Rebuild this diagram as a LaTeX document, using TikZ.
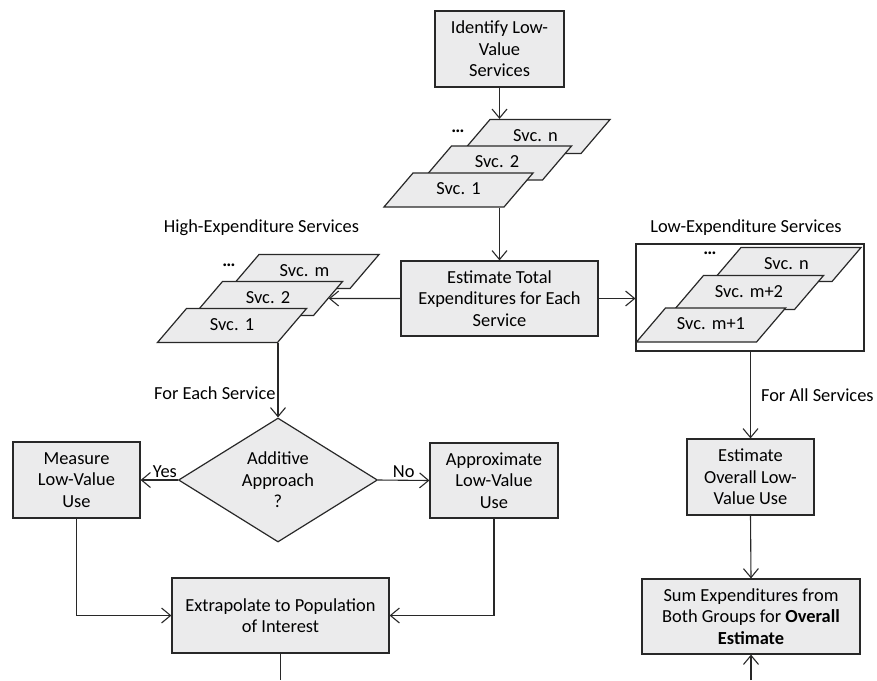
\documentclass[tikz,border=0pt]{standalone}
\usepackage{fontspec}
\setmainfont{Carlito}
\usetikzlibrary{shapes.geometric,arrows.meta}
\definecolor{boxfill}{RGB}{235,235,236}
\definecolor{linegray}{RGB}{40,40,40}

\begin{document}
\begin{tikzpicture}[x=1pt,y=-1pt,
		every node/.style={font=\fontsize{18.4}{21.5}\selectfont\frenchspacing},
		box/.style={draw=linegray,fill=boxfill,line width=1.2pt,align=center,inner sep=0pt},
		svc/.style={trapezium,trapezium left angle=49.5,trapezium right angle=130.5,trapezium stretches body,
			draw=linegray,fill=boxfill,line width=1.2pt,text width=91pt,align=center,
			text height=13pt,text depth=4pt,inner xsep=0pt,inner ysep=8.5pt},
		decide/.style={diamond,aspect=1.6,draw=linegray,fill=boxfill,line width=1.2pt,align=center,inner sep=0pt,
			minimum width=199pt,minimum height=124pt},
		grp/.style={draw=linegray,line width=1.2pt,inner sep=0pt,minimum width=228pt,minimum height=107pt},
		arr/.style={draw=linegray,line width=1.1pt,-{Straight Barb[length=9pt,width=15pt]}},
		lbl/.style={inner sep=2pt}]
			\useasboundingbox (0,0) rectangle (877,680);
			
			% top
			\node[box,minimum width=129pt,minimum height=76pt] (ident) at (499.5,49) {Identify Low-\\Value\\Services};
			\node[svc] (tn) at (535.5,136.5) {Svc. n};
			\node[svc] (t2) at (497,163) {Svc. 2};
			\node[svc] (t1) at (458.5,190) {Svc. 1};
			\node (tdots) at (458,131) {\textbf{\ldots}};
			\node[box,minimum width=197pt,minimum height=75pt] (est) at (499.5,298.5) {Estimate Total\\Expenditures for Each\\Service};
			
			% high expenditure side
			\node (hilbl) at (261.5,228) {High-Expenditure Services};
			\node[svc] (lm) at (304.5,271.5) {Svc. m};
			\node[svc] (l2) at (268,298.5) {Svc. 2};
			\node[svc] (l1) at (232,325.5) {Svc. 1};
			\node (ldots) at (229,265) {\textbf{\ldots}};
			\node[decide] (dia) at (278,480) {Additive\\Approach\\?};
			\node[box,minimum width=127pt,minimum height=76pt] (meas) at (76.5,480) {Measure\\Low-Value\\Use};
			\node[box,minimum width=128pt,minimum height=75pt] (appr) at (494,480.5) {Approximate\\Low-Value\\Use};
			\node[box,minimum width=217pt,minimum height=75pt] (extr) at (280.5,615.5) {Extrapolate to Population\\of Interest};
			
			% low expenditure side
			\node (lolbl) at (746,228) {Low-Expenditure Services};
			\node[grp] (lowgrp) at (750,297.5) {};
			\node[svc] (rn) at (786.5,264.5) {Svc. n};
			\node[svc] (r2) at (749,292.5) {Svc. m+2};
			\node[svc] (r1) at (711,325) {Svc. m+1};
			\node (rdots) at (710,253) {\textbf{\ldots}};
			\node[box,minimum width=127pt,minimum height=76pt] (ovl) at (750.5,477) {Estimate\\Overall Low-\\Value Use};
			\node[box,minimum width=218pt,minimum height=75pt] (sum) at (751,616.5) {Sum Expenditures from\\Both Groups for \textbf{Overall}\\\textbf{Estimate}};
			
			\coordinate (outA) at (280.5,680);
			\coordinate (inB) at (751,680);
			
			% connectors
			\draw[arr] (ident.south) -- (ident.south |- tn.north);
			\draw[arr] (est.north |- t1.south) -- (est.north);
			\draw[arr] (est.west) -- (l2.east);
			\draw[arr] (est.east) -- (est.east -| lowgrp.west);
			\draw[arr] (dia.north |- l1.south) -- node[lbl,left,pos=0.67] (foreach) {For Each Service} (dia.north);
			\draw[arr] (dia.west) -- node[lbl,above,pos=0.35] (yes) {Yes} (meas.east);
			\draw[arr] (dia.east) -- node[lbl,above] (no) {No} (appr.west);
			\draw[arr] (meas.south) |- (extr.west);
			\draw[arr] (appr.south) |- (extr.east);
			\draw[draw=linegray,line width=1.1pt] (extr.south) -- (outA);
			\draw[arr] (lowgrp.south -| ovl.north) -- node[lbl,right,xshift=8pt] (forall) {For All Services} (ovl.north);
			\draw[arr] (ovl.south) -- (sum.north);
			\draw[arr] (inB) -- (sum.south);
		\end{tikzpicture}
\end{document}
